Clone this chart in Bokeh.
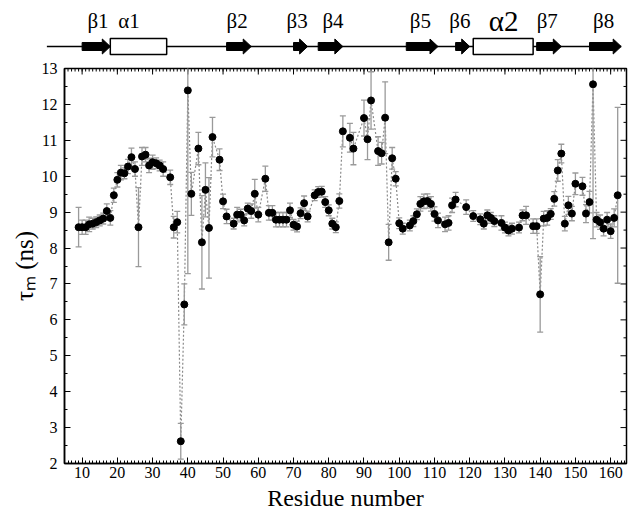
import math
from bokeh.plotting import figure
from bokeh.models import Range1d, FixedTicker, ColumnDataSource
from bokeh.layouts import column
from bokeh.embed import file_html
from bokeh.resources import INLINE
from bokeh.core.properties import value

# ---------------- data ----------------
residue = [9, 10, 11, 12, 13, 14, 15, 16, 17, 18, 19, 20, 21, 22, 23, 24, 25, 26, 27, 28,
           29, 30, 31, 32, 33, 35, 36, 37, 38, 39, 40, 41, 43, 44, 45, 46, 47, 49, 50, 51,
           53, 54, 55, 56, 57, 58, 59, 60, 62, 63, 64, 65, 66, 67, 68, 69, 70, 71, 72, 73,
           74, 76, 77, 78, 79, 80, 81, 82, 83, 84, 86, 87, 90, 91, 92, 94, 95, 96, 97, 98,
           99, 100, 101, 103, 104, 105, 106, 107, 108, 109, 110, 111, 113, 114, 115, 116, 119, 121, 123, 124,
           125, 126, 127, 129, 130, 131, 132, 134, 135, 136, 138, 139, 140, 141, 142, 143, 144, 145, 146, 147,
           148, 149, 150, 152, 153, 154, 155, 156, 157, 158, 159, 160, 161, 162]
tau = [8.58, 8.58, 8.58, 8.66, 8.68, 8.72, 8.77, 8.82, 9.03, 8.84, 9.47, 9.90, 10.10, 10.08, 10.27, 10.53, 10.20, 8.58, 10.55, 10.60,
       10.30, 10.39, 10.36, 10.30, 10.20, 9.97, 8.58, 8.72, 2.62, 6.43, 12.39, 9.51, 10.77, 8.16, 9.62, 8.56, 11.09, 10.46, 9.30, 8.88,
       8.68, 8.93, 8.93, 8.77, 9.10, 9.03, 9.51, 8.93, 9.93, 8.98, 8.98, 8.79, 8.79, 8.79, 8.79, 9.05, 8.65, 8.60, 8.97, 9.25,
       8.88, 9.47, 9.56, 9.57, 9.28, 9.05, 8.68, 8.58, 9.31, 11.25, 11.07, 10.77, 11.62, 11.03, 12.11, 10.70, 10.64, 11.63, 8.16, 10.50,
       9.93, 8.69, 8.54, 8.63, 8.75, 8.94, 9.23, 9.30, 9.31, 9.23, 8.95, 8.77, 8.66, 8.70, 9.19, 9.35, 9.14, 8.89, 8.80, 8.68,
       8.91, 8.84, 8.75, 8.70, 8.57, 8.49, 8.54, 8.57, 8.91, 8.91, 8.61, 8.61, 6.71, 8.82, 8.84, 8.95, 9.37, 10.16, 10.63, 8.68,
       9.19, 8.96, 9.79, 9.72, 8.96, 9.28, 12.56, 8.79, 8.72, 8.54, 8.79, 8.47, 8.84, 9.47]
tau_err = [0.55, 0.20, 0.20, 0.20, 0.15, 0.15, 0.15, 0.15, 0.20, 0.20, 0.20, 0.20, 0.20, 0.15, 0.20, 0.25, 0.20, 1.10, 0.25, 0.20,
           0.20, 0.20, 0.15, 0.15, 0.20, 0.20, 0.30, 0.30, 0.50, 0.57, 5.10, 0.60, 0.45, 1.30, 0.75, 1.40, 0.55, 0.30, 0.20, 0.20,
           0.15, 0.20, 0.15, 0.15, 0.15, 0.20, 0.40, 0.20, 0.35, 0.20, 0.20, 0.20, 0.20, 0.20, 0.20, 0.20, 0.15, 0.15, 0.15, 0.20,
           0.15, 0.15, 0.15, 0.15, 0.15, 0.15, 0.15, 0.15, 0.20, 0.43, 0.40, 0.45, 0.50, 0.57, 0.80, 0.40, 0.30, 1.00, 0.50, 0.30,
           0.20, 0.15, 0.15, 0.15, 0.15, 0.15, 0.20, 0.20, 0.20, 0.20, 0.20, 0.20, 0.20, 0.20, 0.20, 0.20, 0.20, 0.15, 0.15, 0.15,
           0.15, 0.15, 0.15, 0.20, 0.15, 0.15, 0.15, 0.15, 0.15, 0.25, 0.20, 0.20, 1.05, 0.20, 0.20, 0.15, 0.20, 0.30, 0.26, 0.20,
           0.25, 0.20, 0.30, 0.25, 0.25, 0.30, 4.30, 0.20, 0.20, 0.20, 0.20, 0.20, 0.25, 2.45]

xticks = list(range(10, 161, 10))
yticks = list(range(2, 14))

# secondary structure (residue ranges)
ss_names = ["β1", "α1", "β2", "β3", "β4", "β5", "β6", "α2", "β7", "β8"]
ss_type = ["E", "H", "E", "E", "E", "E", "E", "H", "E", "E"]
ss_start = [10, 18, 51, 70, 77, 102, 116, 121, 139, 154]
ss_end = [18, 34, 58, 74, 84, 111, 120, 138, 146, 163]
label_pos = [14.5, 23.3, 54, 71, 81.2, 106, 117.2, 129.6, 142, 158]
chain_start, chain_end = 0, 163

SERIF = "Liberation Serif"

# ---------------- geometry ----------------
X0, X1 = 5, 164.5
Y0, Y1 = 2, 13
W = 629
LEFT, RIGHT = 64, 3
FRAME_W = W - LEFT - RIGHT
PX_PER_RES = FRAME_W / (X1 - X0)

# ---------------- topology figure ----------------
TOP_H = 60
top_left = 40
top_frame_w = W - top_left - RIGHT
top = figure(width=W, height=TOP_H,
             x_range=Range1d(X1 - top_frame_w / PX_PER_RES, X1), y_range=Range1d(0, TOP_H),
             output_backend="svg", toolbar_location=None,
             x_axis_type=None, y_axis_type=None,
             min_border_left=top_left, min_border_right=RIGHT, min_border_top=0, min_border_bottom=0)
top.frame_align = False
top.grid.visible = False
top.outline_line_color = None

line_y = 14
top.line([chain_start, chain_end], [line_y, line_y], line_color="black", line_width=1.5)

head_len = 8 / PX_PER_RES
arrow_xs, arrow_ys, box_l, box_r = [], [], [], []
for t, s, e in zip(ss_type, ss_start, ss_end):
    if t == "E":
        hb = max(e - head_len, s)
        arrow_xs.append([s, hb, hb, e, hb, hb, s])
        arrow_ys.append([line_y - 4, line_y - 4, line_y - 7.5, line_y, line_y + 7.5, line_y + 4, line_y + 4])
    else:
        box_l.append(s)
        box_r.append(e)
top.patches(arrow_xs, arrow_ys, fill_color="black", line_color="black", line_width=1)
top.quad(left=box_l, right=box_r, bottom=line_y - 8, top=line_y + 8,
         fill_color="white", line_color="black", line_width=1.5)
lab_src = ColumnDataSource(dict(x=label_pos, y=[40] * len(ss_names), text=ss_names,
                                size=["29px" if n == "α2" else "21px" for n in ss_names]))
top.text(x="x", y="y", text="text", source=lab_src, text_font=value(SERIF),
         text_font_size="size", text_align="center", text_baseline="middle", text_color="black")

# ---------------- main figure ----------------
p = figure(width=W, height=516 - TOP_H, x_range=Range1d(X0, X1), y_range=Range1d(Y0, Y1),
           output_backend="svg", toolbar_location=None,
           min_border_left=LEFT, min_border_right=RIGHT, min_border_top=8, min_border_bottom=53)
p.frame_align = False
p.grid.visible = False
p.outline_line_color = "black"
p.outline_line_width = 1.5

x_minor = list(range(5, 165))
y_minor = [y + 0.5 for y in range(2, 13)]
p.xaxis.ticker = FixedTicker(ticks=xticks, minor_ticks=x_minor)
p.yaxis.ticker = FixedTicker(ticks=yticks, minor_ticks=y_minor)
for ax in [p.xaxis[0], p.yaxis[0]]:
    ax.major_tick_in = 6
    ax.major_tick_out = 0
    ax.minor_tick_in = 3
    ax.minor_tick_out = 0
    ax.axis_line_color = "black"
    ax.axis_line_width = 1.5
    ax.major_tick_line_color = "black"
    ax.minor_tick_line_color = "black"
    ax.major_label_text_font = SERIF
    ax.major_label_text_font_size = "16px"
    ax.major_label_text_color = "black"
    ax.axis_label_text_font = SERIF
    ax.axis_label_text_font_style = "normal"
    ax.axis_label_text_color = "black"
p.xaxis.axis_label = "Residue number"
p.xaxis.axis_label_text_font_size = "24px"
p.xaxis.major_label_standoff = 3
p.xaxis.axis_label_standoff = 4
p.yaxis.axis_label = "τₘ (ns)"
p.yaxis.axis_label_text_font_size = "25px"
p.yaxis.major_label_standoff = 7
p.yaxis.axis_label_standoff = 1

# mirrored inward ticks on top and right edges (half of each dash is clipped away)
p.scatter(xticks, [Y1] * len(xticks), marker="dash", angle=math.pi / 2, size=12, line_color="black", line_width=1)
p.scatter(x_minor, [Y1] * len(x_minor), marker="dash", angle=math.pi / 2, size=6, line_color="black", line_width=1)
p.scatter([X1] * len(yticks), yticks, marker="dash", size=12, line_color="black", line_width=1)
p.scatter([X1] * len(y_minor), y_minor, marker="dash", size=6, line_color="black", line_width=1)

src = ColumnDataSource(dict(x=residue, y=tau,
                            lo=[v - e for v, e in zip(tau, tau_err)],
                            hi=[v + e for v, e in zip(tau, tau_err)]))
p.line("x", "y", source=src, line_color="#8a8a8a", line_width=1.2, line_dash="2 2")
p.segment(x0="x", y0="lo", x1="x", y1="hi", source=src, line_color="#9a9a9a", line_width=1.3)
p.scatter("x", "hi", source=src, marker="dash", size=6, line_color="#9a9a9a", line_width=1.3)
p.scatter("x", "lo", source=src, marker="dash", size=6, line_color="#9a9a9a", line_width=1.3)
p.scatter("x", "y", source=src, marker="circle", size=7, fill_color="black", line_color="black")

layout = column(top, p, spacing=0)
open("out.html", "w").write(file_html(layout, INLINE))
